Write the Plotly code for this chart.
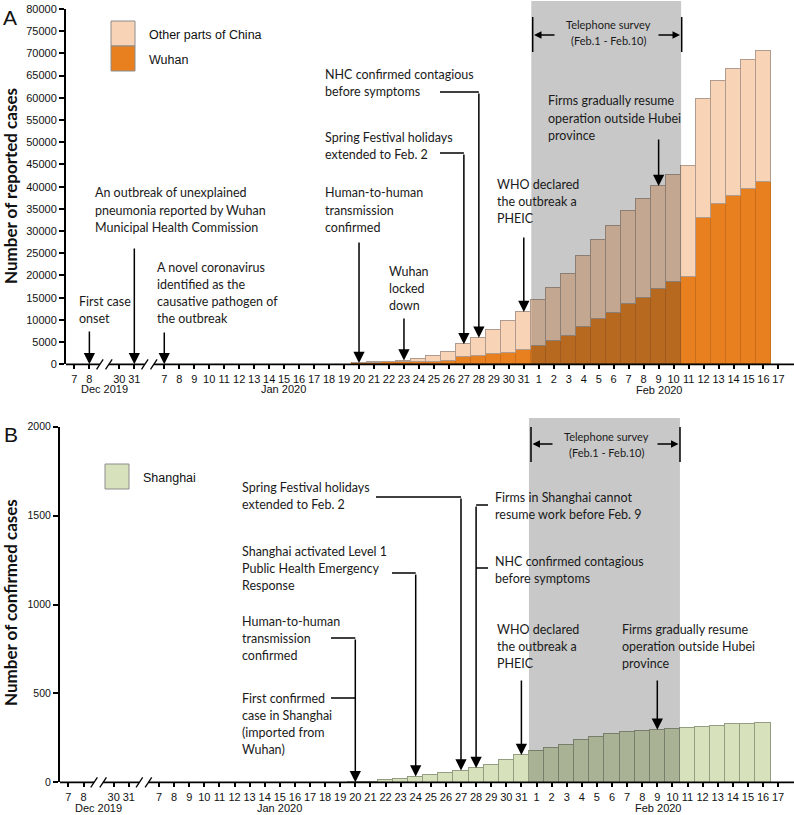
import plotly.graph_objects as go

W, H = 794, 815

# ---------------- data ----------------
full_dates = ["Dec 7", "Dec 8", "", "Dec 30", "Dec 31", "",
              "Jan 7", "Jan 8", "Jan 9", "Jan 10", "Jan 11", "Jan 12", "Jan 13", "Jan 14",
              "Jan 15", "Jan 16", "Jan 17", "Jan 18", "Jan 19", "Jan 20", "Jan 21", "Jan 22",
              "Jan 23", "Jan 24", "Jan 25", "Jan 26", "Jan 27", "Jan 28", "Jan 29", "Jan 30",
              "Jan 31", "Feb 1", "Feb 2", "Feb 3", "Feb 4", "Feb 5", "Feb 6", "Feb 7", "Feb 8",
              "Feb 9", "Feb 10", "Feb 11", "Feb 12", "Feb 13", "Feb 14", "Feb 15", "Feb 16", "Feb 17"]
tick_labels = ["7", "8", "", "30", "31", "",
               "7", "8", "9", "10", "11", "12", "13", "14", "15", "16", "17", "18", "19", "20",
               "21", "22", "23", "24", "25", "26", "27", "28", "29", "30", "31",
               "1", "2", "3", "4", "5", "6", "7", "8", "9", "10", "11", "12", "13", "14", "15", "16", "17"]

bar_days = ["Jan 20", "Jan 21", "Jan 22", "Jan 23", "Jan 24", "Jan 25", "Jan 26", "Jan 27",
            "Jan 28", "Jan 29", "Jan 30", "Jan 31", "Feb 1", "Feb 2", "Feb 3", "Feb 4",
            "Feb 5", "Feb 6", "Feb 7", "Feb 8", "Feb 9", "Feb 10", "Feb 11", "Feb 12",
            "Feb 13", "Feb 14", "Feb 15", "Feb 16"]
wuhan = [258, 363, 425, 495, 572, 618, 698, 1590, 1905, 2261, 2639, 3215, 4109, 5142,
         6384, 8351, 10117, 11618, 13603, 14982, 16902, 18454, 19558, 32994, 35991, 37914,
         39462, 41152]
other_china = [33, 77, 146, 335, 715, 1357, 2046, 2925, 4069, 5450, 7053, 8576, 10271, 12063,
               14054, 15973, 17901, 19543, 20943, 22216, 23269, 24184, 25095, 26810, 27860,
               28578, 29038, 29396]
shanghai = [1, 6, 16, 20, 33, 40, 53, 66, 80, 101, 128, 153, 177, 193, 210, 237, 255, 272,
            284, 293, 295, 302, 306, 315, 318, 328, 329, 334]

y_ticks_a = [0, 5000, 10000, 15000, 20000, 25000, 30000, 35000, 40000, 45000, 50000,
             55000, 60000, 65000, 70000, 75000, 80000]
y_ticks_b = [0, 500, 1000, 1500, 2000]

pos = [full_dates.index(d) for d in bar_days]
tickvals = [i for i, t in enumerate(tick_labels) if t]
ticktext = [t for t in tick_labels if t]

# ---------------- geometry (pixels) ----------------
A_X0, A_STEP, A_BOT, A_TOP, A_LEFT = 74.4, 14.98, 364.3, 9.0, 66
B_X0, B_STEP, B_BOT, B_TOP, B_LEFT = 68.4, 15.1, 782.3, 426.7, 60

def xa(p): return (p - A_X0) / A_STEP
def xb(p): return (p - B_X0) / B_STEP
def ya(p): return (A_BOT - p) * 80000 / (A_BOT - A_TOP)
def yb(p): return (B_BOT - p) * 2000 / (B_BOT - B_TOP)
def py(p): return 1 - p / H

C_OTHER, C_WUHAN, C_SH = "#F9D3B5", "#E9801F", "#D7E2BC"
TXT = dict(family="Lato", size=12.5, color="#1a1a1a")
TICKF = dict(family="Liberation Sans, Arial", size=11, color="#111")

fig = go.Figure()
fig.add_trace(go.Bar(x=pos, y=wuhan, width=1, name="Wuhan", xaxis="x", yaxis="y",
                     marker=dict(color=C_WUHAN, line=dict(color="#C86E1C", width=1))))
fig.add_trace(go.Bar(x=pos, y=other_china, width=1, name="Other parts of China", xaxis="x", yaxis="y",
                     marker=dict(color=C_OTHER, line=dict(color="#B09C8E", width=1))))
fig.add_trace(go.Bar(x=pos, y=shanghai, width=1, name="Shanghai", xaxis="x2", yaxis="y2",
                     marker=dict(color=C_SH, line=dict(color="#939D82", width=1))))

ann, shapes = [], []

def text_lines(lines, x, y0, spacing=17.3, font=TXT, anchor="left"):
    for i, t in enumerate(lines):
        ann.append(dict(x=x / W, y=py(y0 + i * spacing), xref="paper", yref="paper", text=t,
                        showarrow=False, xanchor=anchor, yanchor="middle", font=font))

def arrow(xr, yr, x, tip, tail, size=1.5):
    ann.append(dict(x=x, y=tip, ax=x, ay=tail, xref=xr, yref=yr, axref=xr, ayref=yr, text="",
                    showarrow=True, arrowhead=2, arrowsize=size, arrowwidth=1.5,
                    arrowcolor="black", standoff=0, startstandoff=0))

def harrow(xr, x_tip, x_tail, ypx):
    ann.append(dict(x=x_tip, y=py(ypx), ax=x_tail, ay=0, xref=xr, yref="paper", axref=xr,
                    ayref="pixel", text="", showarrow=True, arrowhead=2, arrowsize=1.0,
                    arrowwidth=1.5, arrowcolor="black", standoff=0, startstandoff=0))

def hline(xr, x0, x1, ypx, w=1.5):
    shapes.append(dict(type="line", xref=xr, yref="paper", x0=x0, x1=x1, y0=py(ypx), y1=py(ypx),
                       line=dict(color="black", width=w)))

def vline(xr, x, y0px, y1px, w=1.5):
    shapes.append(dict(type="line", xref=xr, yref="paper", x0=x, x1=x, y0=py(y0px), y1=py(y1px),
                       line=dict(color="black", width=w)))

def top(series_list, day):
    i = bar_days.index(day)
    return sum(s[i] for s in series_list)

idx = full_dates.index

# ---------- survey shading (overlay) ----------
shapes.append(dict(type="rect", xref="x", yref="paper", x0=30.5, x1=40.5, y0=py(A_BOT), y1=py(1),
                   fillcolor="rgba(37,37,37,0.25)", line=dict(width=0), layer="above"))
shapes.append(dict(type="rect", xref="x2", yref="paper", x0=30.5, x1=40.5, y0=py(B_BOT), y1=py(418),
                   fillcolor="rgba(37,37,37,0.25)", line=dict(width=0), layer="above"))

# ---------- broken x-axis lines ----------
def axis_with_breaks(xr, xconv, y_bot, left_px):
    segs = [(xconv(left_px - 3), 1.7), (2.3, 4.7), (5.3, 48.5)]
    for a, b in segs:
        shapes.append(dict(type="line", xref=xr, yref="paper", x0=a, x1=b, y0=py(y_bot), y1=py(y_bot),
                           line=dict(color="black", width=1.8)))
    for c in (1.7, 2.3, 4.7, 5.3):
        shapes.append(dict(type="line", xref=xr, yref="paper", x0=c - 0.22, x1=c + 0.22,
                           y0=py(y_bot + 5), y1=py(y_bot - 5), line=dict(color="black", width=1.3)))

axis_with_breaks("x", xa, A_BOT, A_LEFT)
axis_with_breaks("x2", xb, B_BOT, B_LEFT)

# ---------- legends ----------
shapes += [
    dict(type="rect", xref="paper", yref="paper", x0=111 / W, x1=135 / W, y0=py(46), y1=py(21),
         fillcolor=C_OTHER, line=dict(color="#8c8c8c", width=1)),
    dict(type="rect", xref="paper", yref="paper", x0=111 / W, x1=135 / W, y0=py(71), y1=py(46),
         fillcolor=C_WUHAN, line=dict(color="#8c8c8c", width=1)),
    dict(type="rect", xref="paper", yref="paper", x0=105 / W, x1=129 / W, y0=py(489), y1=py(464),
         fillcolor=C_SH, line=dict(color="#8c8c8c", width=1)),
]
LEGF = dict(family="Liberation Sans, Arial", size=12.5, color="#111")
text_lines(["Other parts of China"], 147, 35, font=LEGF)
text_lines(["Wuhan"], 147, 60, font=LEGF)
text_lines(["Shanghai"], 141, 478, font=LEGF)

# ---------- panel letters, axis titles, month labels ----------
ann.append(dict(x=10 / W, y=py(17.5), xref="paper", yref="paper", text="A", showarrow=False,
                xanchor="center", yanchor="middle", font=dict(family="Liberation Sans, Arial", size=21, color="#111")))
ann.append(dict(x=11 / W, y=py(434.5), xref="paper", yref="paper", text="B", showarrow=False,
                xanchor="center", yanchor="middle", font=dict(family="Liberation Sans, Arial", size=21, color="#111")))
TITF = dict(family="Lato", size=17, color="#111")
ann.append(dict(x=10 / W, y=py(186), xref="paper", yref="paper", text="<b>Number of reported cases</b>",
                showarrow=False, textangle=-90, xanchor="center", yanchor="middle", font=TITF))
ann.append(dict(x=10 / W, y=py(603), xref="paper", yref="paper", text="<b>Number of confirmed cases</b>",
                showarrow=False, textangle=-90, xanchor="center", yanchor="middle", font=TITF))
MONF = dict(family="Liberation Sans, Arial", size=11, color="#111")
for lab, xp, yp in [("Dec 2019", 104, 389), ("Jan 2020", 283, 389), ("Feb 2020", 659, 390),
                    ("Dec 2019", 98, 808), ("Jan 2020", 279, 808), ("Feb 2020", 658, 808)]:
    text_lines([lab], xp, yp, font=MONF, anchor="center")

# ---------- telephone survey brackets ----------
SURF = dict(family="Lato", size=11, color="#1a1a1a")
vline("x", xa(532.7), 17, 52)
vline("x", xa(681.7), 17, 52)
harrow("x", xa(534), xa(556), 35)
harrow("x", xa(680), xa(657), 35)
text_lines(["Telephone survey", "(Feb.1 - Feb.10)"], 608, 24, spacing=16, font=SURF, anchor="center")
vline("x2", xb(531), 427, 462)
vline("x2", xb(680), 427, 462)
harrow("x2", xb(532.5), xb(554), 444)
harrow("x2", xb(678.5), xb(656), 444)
text_lines(["Telephone survey", "(Feb.1 - Feb.10)"], 606, 436, spacing=16.5, font=SURF, anchor="center")

# ---------- panel A events ----------
AS = [wuhan, other_china]
text_lines(["First case", "onset"], 77, 301)
arrow("x", "y", idx("Dec 8"), 0, ya(330))
text_lines(["An outbreak of unexplained", "pneumonia reported by Wuhan", "Municipal Health Commission"], 93, 193)
arrow("x", "y", idx("Dec 31"), 0, ya(247))
text_lines(["A novel coronavirus", "identified as the", "causative pathogen of", "the outbreak"], 155, 267)
arrow("x", "y", idx("Jan 7"), 0, ya(331))
text_lines(["Human-to-human", "transmission", "confirmed"], 323, 193)
arrow("x", "y", idx("Jan 20"), top(AS, "Jan 20"), ya(241))
text_lines(["Wuhan", "locked", "down"], 387, 271)
arrow("x", "y", idx("Jan 23"), top(AS, "Jan 23"), ya(317))
text_lines(["Spring Festival holidays", "extended to Feb. 2"], 323, 137)
hline("x", xa(440), idx("Jan 27"), 153)
arrow("x", "y", idx("Jan 27"), top(AS, "Jan 27"), ya(153))
text_lines(["NHC confirmed contagious", "before symptoms"], 323, 74)
hline("x", xa(440), idx("Jan 28"), 92)
arrow("x", "y", idx("Jan 28"), top(AS, "Jan 28"), ya(92))
text_lines(["WHO declared", "the outbreak a", "PHEIC"], 495, 184)
arrow("x", "y", idx("Jan 31"), top(AS, "Jan 31"), ya(236))
text_lines(["Firms gradually resume", "operation outside Hubei", "province"], 546, 101)
arrow("x", "y", idx("Feb 9"), top(AS, "Feb 9"), ya(138))

# ---------- panel B events ----------
BS = [shanghai]
text_lines(["Spring Festival holidays", "extended to Feb. 2"], 240, 487)
hline("x2", xb(376), idx("Jan 27"), 497)
arrow("x2", "y2", idx("Jan 27"), top(BS, "Jan 27"), yb(497))
text_lines(["Shanghai activated Level 1", "Public Health Emergency", "Response"], 240, 551)
hline("x2", xb(392), idx("Jan 24"), 573)
arrow("x2", "y2", idx("Jan 24"), top(BS, "Jan 24"), yb(573))
text_lines(["Human-to-human", "transmission", "confirmed"], 240, 621)
hline("x2", xb(331), idx("Jan 20"), 638)
text_lines(["First confirmed", "case in Shanghai", "(imported from", "Wuhan)"], 240, 698)
hline("x2", xb(331), idx("Jan 20"), 698)
arrow("x2", "y2", idx("Jan 20"), 0, yb(638))
text_lines(["Firms in Shanghai cannot", "resume work before Feb. 9"], 493, 497)
text_lines(["NHC confirmed contagious", "before symptoms"], 493, 561)
hline("x2", idx("Jan 28"), xb(488), 505)
hline("x2", idx("Jan 28"), xb(488), 568)
arrow("x2", "y2", idx("Jan 28"), top(BS, "Jan 28"), yb(505))
text_lines(["WHO declared", "the outbreak a", "PHEIC"], 495, 629)
arrow("x2", "y2", idx("Jan 31"), top(BS, "Jan 31"), yb(679))
text_lines(["Firms gradually resume", "operation outside Hubei", "province"], 620, 629)
arrow("x2", "y2", idx("Feb 9"), top(BS, "Feb 9"), yb(679))

# ---------- axes ----------
common_x = dict(tickvals=tickvals, ticktext=ticktext, ticks="outside", ticklen=4, tickwidth=1.5,
                tickcolor="black", showline=False, showgrid=False, zeroline=False, tickfont=TICKF,
                fixedrange=True, automargin=False)
common_y = dict(ticks="outside", ticklen=5, tickwidth=1.5, tickcolor="black", showline=True,
                linewidth=2, linecolor="black", showgrid=False, zeroline=False, fixedrange=True,
                tickformat="d", automargin=False)

fig.update_layout(
    width=W, height=H, margin=dict(l=0, r=0, t=0, b=0, pad=0, autoexpand=False),
    paper_bgcolor="white", plot_bgcolor="rgba(0,0,0,0)",
    barmode="stack", bargap=0, showlegend=False,
    xaxis=dict(domain=[A_LEFT / W, 1], range=[xa(A_LEFT), xa(W)], anchor="y", **common_x),
    yaxis=dict(domain=[py(A_BOT), py(A_TOP)], range=[0, 80000], tickvals=y_ticks_a, anchor="x",
               tickfont=TICKF, **common_y),
    xaxis2=dict(domain=[B_LEFT / W, 1], range=[xb(B_LEFT), xb(W)], anchor="y2", **common_x),
    yaxis2=dict(domain=[py(B_BOT), py(B_TOP)], range=[0, 2000], tickvals=y_ticks_b, anchor="x2",
                tickfont=dict(family="Liberation Sans, Arial", size=10.5, color="#111"), **common_y),
    annotations=ann, shapes=shapes,
)

fig.write_html("out.html", config={"displayModeBar": False},
               post_script="document.body.style.margin='0';document.body.style.padding='0';")
